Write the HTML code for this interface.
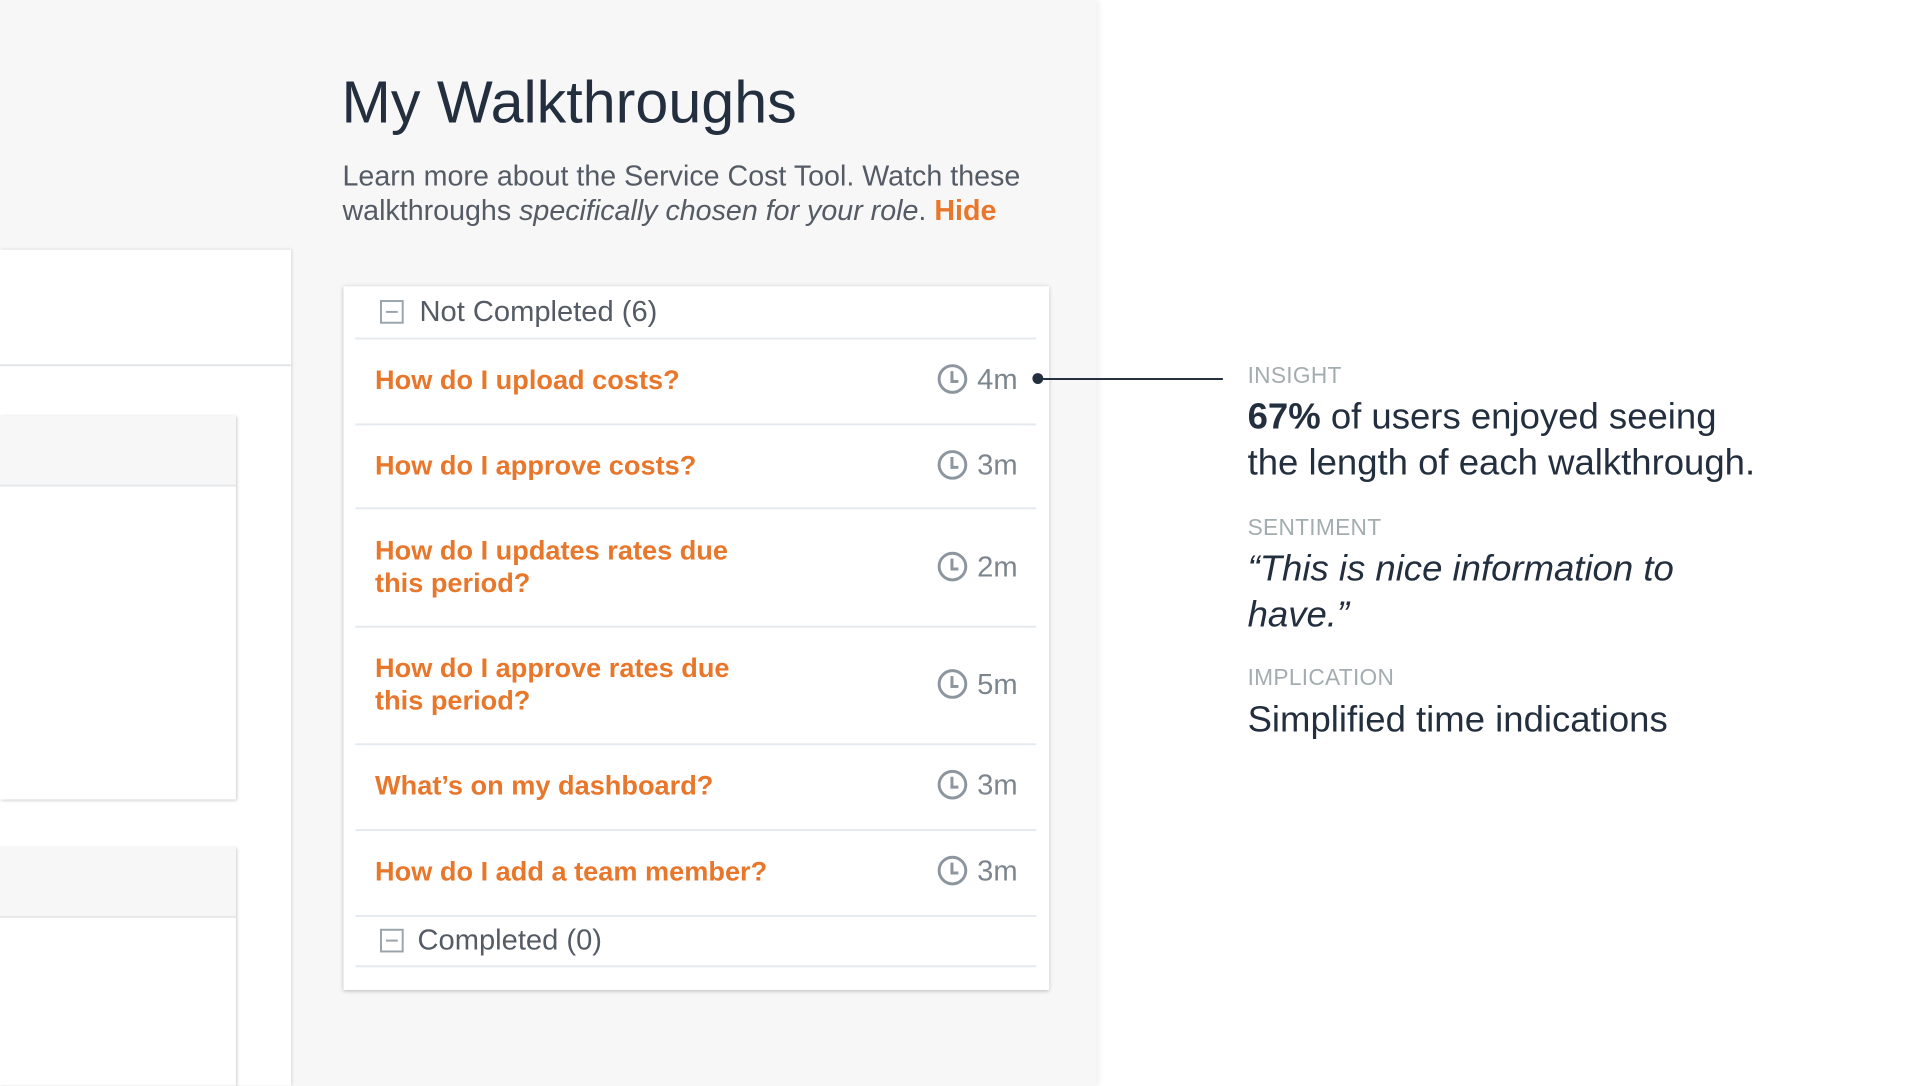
<!DOCTYPE html>
<html><head><meta charset="utf-8"><style>
*{margin:0;padding:0;box-sizing:border-box}
body{width:1920px;height:1080px;position:relative;overflow:hidden;background:#fff;font-family:"Liberation Sans",sans-serif}
#w{position:absolute;left:0;top:0;width:1945px;height:1100px;transform:scale(0.987);transform-origin:0 0}
.a{position:absolute}
.gray{left:0;top:0;width:1111px;height:1100px;background:#f7f7f7;box-shadow:2px 0 6px rgba(0,0,0,.08)}
.t{color:#232f3e;white-space:nowrap}
.row{position:absolute;left:380px;color:#e8772b;font-weight:bold;font-size:27.5px;line-height:33px;white-space:nowrap}
.sep{position:absolute;left:360px;width:690px;height:2px;background:#e6eaee}
.clk{position:absolute;left:950px;width:30px;height:30px;border:3px solid #8d969e;border-radius:50%}
.clk:after{content:"";position:absolute;left:10px;top:4px;width:5px;height:9px;border-left:3px solid #8d969e;border-bottom:3px solid #8d969e}
.tm{position:absolute;left:990px;font-size:29.5px;color:#7d868e}
.box{position:absolute;left:385px;width:24px;height:24px;border:2px solid #9ba3ab}
.box:after{content:"";position:absolute;left:4px;top:9px;width:12px;height:2px;background:#9ba3ab}
.lab{position:absolute;left:1264px;font-size:23px;color:#a3adb0;letter-spacing:.3px}
.body{position:absolute;left:1264px;font-size:37px;color:#232f3e;line-height:47px;white-space:nowrap}
</style></head><body><div id="w">
<div class="a gray"></div>
<div class="a" style="left:0;top:253px;width:295px;height:847px;background:#fff;box-shadow:1px 0 3px rgba(0,0,0,.15)"></div>
<div class="a" style="left:0;top:369px;width:295px;height:2px;background:#e3e6e8"></div>
<div class="a" style="left:0;top:421px;width:239px;height:389px;background:#fff;box-shadow:1px 1px 3px rgba(0,0,0,.2)"></div>
<div class="a" style="left:0;top:421px;width:239px;height:72px;background:#f7f7f7;border-bottom:2px solid #e6e8ea"></div>
<div class="a" style="left:0;top:858px;width:239px;height:242px;background:#fff;box-shadow:1px 1px 3px rgba(0,0,0,.2)"></div>
<div class="a" style="left:0;top:858px;width:239px;height:72px;background:#f7f7f7;border-bottom:2px solid #e6e8ea"></div>

<div class="a t" style="left:346px;top:69px;font-size:60px">My Walkthroughs</div>
<div class="a" style="left:347px;top:162px;font-size:29px;line-height:35px;color:#545b64;white-space:nowrap">Learn more about the Service Cost Tool. Watch these<br>walkthroughs <i>specifically chosen for your role</i>. <b style="color:#e8772b">Hide</b></div>

<div class="a" style="left:348px;top:290px;width:715px;height:713px;background:#fff;box-shadow:0 1px 4px rgba(0,0,0,.25)"></div>
<div class="box" style="top:304px"></div>
<div class="a" style="left:425px;top:299px;font-size:29.5px;color:#545b64">Not Completed (6)</div>
<div class="sep" style="top:342px"></div>
<div class="row" style="top:368px">How do I upload costs?</div>
<div class="clk" style="top:369px"></div><div class="tm" style="top:368px">4m</div>
<div class="sep" style="top:429px"></div>
<div class="row" style="top:455px">How do I approve costs?</div>
<div class="clk" style="top:456px"></div><div class="tm" style="top:455px">3m</div>
<div class="sep" style="top:514px"></div>
<div class="row" style="top:541px">How do I updates rates due<br>this period?</div>
<div class="clk" style="top:559px"></div><div class="tm" style="top:558px">2m</div>
<div class="sep" style="top:634px"></div>
<div class="row" style="top:660px">How do I approve rates due<br>this period?</div>
<div class="clk" style="top:678px"></div><div class="tm" style="top:677px">5m</div>
<div class="sep" style="top:753px"></div>
<div class="row" style="top:779px">What’s on my dashboard?</div>
<div class="clk" style="top:780px"></div><div class="tm" style="top:779px">3m</div>
<div class="sep" style="top:840px"></div>
<div class="row" style="top:866px">How do I add a team member?</div>
<div class="clk" style="top:867px"></div><div class="tm" style="top:866px">3m</div>
<div class="sep" style="top:927px"></div>
<div class="box" style="top:941px"></div>
<div class="a" style="left:423px;top:936px;font-size:29.5px;color:#545b64">Completed (0)</div>
<div class="sep" style="top:978px"></div>

<div class="a" style="left:1046px;top:378px;width:11px;height:11px;border-radius:50%;background:#232f3e"></div>
<div class="a" style="left:1052px;top:383px;width:187px;height:2px;background:#232f3e"></div>

<div class="lab" style="top:367px">INSIGHT</div>
<div class="body" style="top:398px"><b>67%</b> of users enjoyed seeing<br>the length of each walkthrough.</div>
<div class="lab" style="top:521px">SENTIMENT</div>
<div class="body" style="top:552px"><i>“This is nice information to<br>have.”</i></div>
<div class="lab" style="top:673px">IMPLICATION</div>
<div class="body" style="top:705px">Simplified time indications</div>
</div></body></html>
